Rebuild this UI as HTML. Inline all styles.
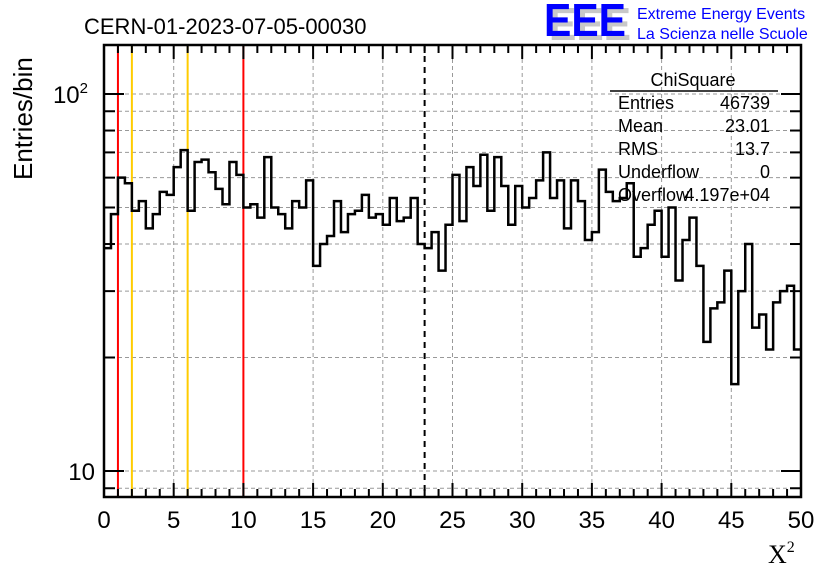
<!DOCTYPE html>
<html><head><meta charset="utf-8">
<style>
body{margin:0;background:#fff;}
svg{display:block;font-family:"Liberation Sans",sans-serif;}
</style></head>
<body>
<svg id="chart" width="836" height="572" viewBox="0 0 836 572">
<rect x="0" y="0" width="836" height="572" fill="#fff"/>
<text x="84" y="34" font-size="22">CERN-01-2023-07-05-00030</text>
<g>
<text x="549" y="40" font-size="46" font-weight="bold" fill="#c8c8c8" textLength="82" lengthAdjust="spacingAndGlyphs">EEE</text>
<text x="544" y="36" font-size="46" font-weight="bold" fill="#0000ff" textLength="82" lengthAdjust="spacingAndGlyphs">EEE</text>
<text x="637" y="19" font-size="16" fill="#0000ff">Extreme Energy Events</text>
<text x="637" y="39" font-size="16" fill="#0000ff">La Scienza nelle Scuole</text>
</g>
<g id="grid"></g>
<g id="cuts"></g>
<path id="hist" fill="none" stroke="#000" stroke-width="2.5"/>
<g id="axes"></g>
<text transform="translate(32,180) rotate(-90)" font-size="26">Entries/bin</text>
<text x="768" y="563" font-size="26" font-family="Liberation Serif,serif">X<tspan font-size="16" dy="-11">2</tspan></text>
<g font-size="18">
<text x="693" y="86" text-anchor="middle">ChiSquare</text>
<line x1="610" y1="91" x2="778" y2="91" stroke="#000" stroke-width="1.5"/>
<text x="618" y="109">Entries</text><text x="770" y="109" text-anchor="end">46739</text>
<text x="618" y="132">Mean</text><text x="770" y="132" text-anchor="end">23.01</text>
<text x="618" y="155">RMS</text><text x="770" y="155" text-anchor="end">13.7</text>
<text x="618" y="178">Underflow</text><text x="770" y="178" text-anchor="end">0</text>
<text x="618" y="201">Overflow</text><text x="770" y="201" text-anchor="end">4.197e+04</text>
</g>
</svg>
<script>
const counts = [39,48,60,58,49,52,44,48,55,54,64,71,49,66,67,62,56,51,66,61,50,51,47,68,50,48,44,52,50,59,35,40,42,52,43,48,49,54,47,48,45,53,46,47,53,40,39,43,34,45,61,46,64,57,69,49,68,57,45,57,50,53,59,70,53,59,44,59,52,41,43,63,55,52,53,58,37,39,45,49,37,50,32,41,47,35,22,27,28,34,17,30,40,24,26,21,28,30,31,21];
const xRange = [0, 50];
const xTicks = [0,5,10,15,20,25,30,35,40,45,50];
const yGridValues = [9,10,20,30,40,50,60,70,80,90,100];
const redCuts = [1, 10];
const yellowCuts = [2, 6];
const meanCut = [23];

const L=104,R=801,T=45,B=497;
const X=v=>L+(v-xRange[0])/(xRange[1]-xRange[0])*(R-L);
const Y=v=>471-(Math.log10(v)-1)*377;
const NS='http://www.w3.org/2000/svg';
function mk(parent,tag,attrs){const e=document.createElementNS(NS,tag);for(const k in attrs)e.setAttribute(k,attrs[k]);parent.appendChild(e);return e;}
const grid=document.getElementById('grid'),axes=document.getElementById('axes'),cuts=document.getElementById('cuts');
yGridValues.forEach(v=>{const y=Y(v);if(y<T||y>B)return;
 const g=mk(grid,'line',{x1:L,x2:R,y1:y,y2:y,stroke:'#999','stroke-dasharray':'4,3','stroke-width':1});
 
 
 const big=(v===10||v===100);
 const t1=mk(axes,'line',{x1:L,x2:L+(big?20:11),y1:y,y2:y,stroke:'#000','stroke-width':2});
 
 
 const t2=mk(axes,'line',{x1:R-(big?20:11),x2:R,y1:y,y2:y,stroke:'#000','stroke-width':2});
 
 
});
[[10,'10',null],[100,'10','2']].forEach(([v,s,sup])=>{
 const t=mk(axes,'text',{x:sup?88:95,y:Y(v)+9,'font-size':24,'text-anchor':'end'});
 t.textContent=s;
 if(sup){const ts=mk(t,'tspan',{'font-size':15,dy:-10});ts.textContent=sup;}
 
 
});
xTicks.forEach(v=>{const x=X(v);
 if(v>xRange[0]&&v<xRange[1]){const g=mk(grid,'line',{x1:x,x2:x,y1:T,y2:B,stroke:'#999','stroke-dasharray':'4,3','stroke-width':1});
 
 }
 const t=mk(axes,'text',{x:x,y:528,'font-size':24,'text-anchor':'middle'});
 t.textContent=v;
 
 
});
for(let v=xRange[0];v<=xRange[1];v++){const x=X(v);const big=v%5===0;
 const a=mk(axes,'line',{x1:x,x2:x,y1:B,y2:B-(big?14:8),stroke:'#000','stroke-width':2});
 
 
 const b=mk(axes,'line',{x1:x,x2:x,y1:T,y2:T+(big?14:8),stroke:'#000','stroke-width':2});
 
 
}
const fr=mk(axes,'rect',{x:L,y:T,width:R-L,height:B-T,fill:'none',stroke:'#000','stroke-width':2.5});


function cut(v,color,dash,name){const x=X(v);const l=mk(cuts,'line',{x1:x,x2:x,y1:T,y2:B,stroke:color,'stroke-width':2});if(dash)l.setAttribute('stroke-dasharray',dash);
 
 }
redCuts.forEach(v=>cut(v,'#ff0000',null,'red-cut-line'));
yellowCuts.forEach(v=>cut(v,'#ffcc00',null,'yellow-cut-line'));
meanCut.forEach(v=>cut(v,'#000',"6,5",'mean-cut-line'));
const bw=(xRange[1]-xRange[0])/counts.length;
let d='';
counts.forEach((c,i)=>{const x0=X(xRange[0]+i*bw),x1=X(xRange[0]+(i+1)*bw),y=Y(c);
 d+=(i===0?'M'+x0+','+y:'V'+y)+'H'+x1;});
document.getElementById('hist').setAttribute('d',d);
</script>
</body></html>
